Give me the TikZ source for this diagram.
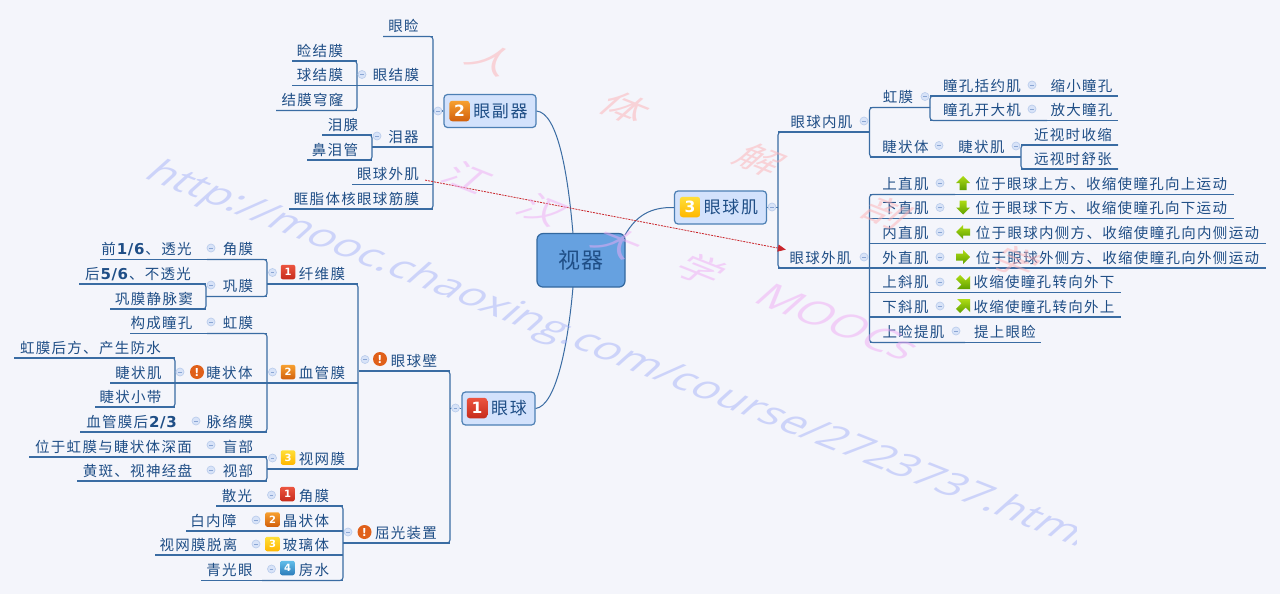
\documentclass[tikz,border=0pt]{standalone}
\usepackage{fontspec}
\usetikzlibrary{calc,arrows.meta}
\setmainfont{Noto Sans CJK SC}[LetterSpace=9]
\newfontfamily\latb{DejaVu Sans Bold}[LetterSpace=4]
\newfontfamily\wmcjk{Noto Sans CJK SC}
\newfontfamily\wmlat{Open Sans}
\definecolor{bgc}{HTML}{F4F5FB}
\definecolor{ink}{HTML}{1F4E86}
\definecolor{lnk}{HTML}{3A6CA3}
\definecolor{branchf}{HTML}{D3E2FC}
\definecolor{branchd}{HTML}{4C7FB4}
\definecolor{rootf}{HTML}{66A1E0}
\definecolor{rootd}{HTML}{33689F}
\definecolor{collf}{HTML}{D8E3F8}
\definecolor{colld}{HTML}{BCCEEC}
\definecolor{collm}{HTML}{8AA6D4}
\definecolor{wmurl}{HTML}{A6B2F9}
\definecolor{wmred}{HTML}{FDB0B4}
\definecolor{wmpur}{HTML}{EFABF5}
\definecolor{relc}{HTML}{C9252B}
\definecolor{warnc}{HTML}{E0601A}
\definecolor{pr1a}{HTML}{EC5540}\definecolor{pr1b}{HTML}{C62B1C}
\definecolor{pr2a}{HTML}{F7A030}\definecolor{pr2b}{HTML}{D2600C}
\definecolor{pr3a}{HTML}{FFDF38}\definecolor{pr3b}{HTML}{FFB600}
\definecolor{pr4a}{HTML}{62BEEA}\definecolor{pr4b}{HTML}{2C7CBA}
\definecolor{ara}{HTML}{AEDC14}\definecolor{arb}{HTML}{5FA000}
\tikzset{
 link/.style={draw=lnk,line width=1.1pt},
 curvelink/.style={draw=lnk,line width=1pt},
 lbl/.style={inner sep=0pt,text=ink,font=\fontsize{14.5}{16}\selectfont,anchor=base},
 branch/.style={draw=branchd,fill=branchf,line width=1.2pt,rounded corners=3.5pt,text=ink,inner sep=0pt,minimum height=33pt,font=\fontsize{17}{19}\selectfont},
 rootnode/.style={draw=rootd,fill=rootf,line width=1.2pt,rounded corners=6pt,text=ink,inner sep=0pt,minimum width=88pt,minimum height=53.5pt,font=\fontsize{22}{24}\selectfont},
 collapse/.style={circle,draw=colld,fill=collf,line width=.7pt,inner sep=0pt,minimum size=8pt},
 iconbox/.style={rounded corners=2pt,inner sep=0pt,minimum size=14.5pt,text=white,font=\latb\fontsize{10}{10}\selectfont},
 bigbox/.style={rounded corners=3pt,inner sep=0pt,minimum size=20.5pt,text=white,font=\latb\fontsize{15.5}{16}\selectfont},
 warnicon/.style={circle,fill=warnc,inner sep=0pt,minimum size=14pt,text=white,font=\latb\fontsize{11}{11}\selectfont},
 wm/.style={inner sep=0pt,opacity=.5,rotate=-21.6,xslant=.5,yscale=.78},
 prio/.style={top color=pr#1a,bottom color=pr#1b},
}
% name L R y t1 t2 text
\newcommand\tp[7]{%
 \coordinate (#1L) at (#2,#4);\coordinate (#1R) at (#3,#4);
 \node[lbl] (#1) at ({(#5+#6)/2},{#4-4.9}) {#7};
 \draw[link] (#1L)--(#1R);}
\newcommand\brL[2]{\draw[link,rounded corners=3pt] (#1L)--(#1R)--(#2R)--(#2L);}
\newcommand\brR[2]{\draw[link,rounded corners=3pt] (#1R)--(#1L)--(#2L)--(#2R);}
\newcommand\cl[3]{\node[collapse] (#1C) at (#2,#3) {\textcolor{collm}{\rule{3.6pt}{.7pt}}};}
\newcommand\ic[4]{\node[iconbox,prio=#2] (#1I) at (#3,#4) {#2};}
\newcommand\warn[3]{\node[warnicon] (#1I) at (#2,#3) {!};}
\newcommand\arr[3]{\begin{scope}[shift={(#1,#2)}]\shade[top color=ara,bottom color=arb] #3 -- cycle;\end{scope}}
\newcommand\bo[1]{\hspace{1pt}{\latb\fontsize{15}{16}\selectfont #1}\hspace{1pt}}
\begin{document}
\begin{tikzpicture}[x=1pt,y=-1pt]
\useasboundingbox (0,0) rectangle (1280,594);
\fill[bgc] (0,0) rectangle (1280,594);
% root and main branches
\node[rootnode] (root) at (581,260.3) {视器};
\node[branch,minimum width=92pt] (fq) at (490,111) {\hspace{21pt}眼副器};
\node[branch,minimum width=73pt] (yq) at (498.5,408.5) {\hspace{21pt}眼球};
\node[branch,minimum width=92pt] (ybj) at (720.5,207.5) {\hspace{21pt}眼球肌};
\node[bigbox,prio=2] (fqI) at (459.5,111) {2};
\node[bigbox,prio=1] (yqI) at (477,408) {1};
\node[bigbox,prio=3] (ybjI) at (690,207) {3};
\coordinate (rootA) at (573,233.5);
\coordinate (rootB) at (573,287);
\coordinate (rootC) at (625,235);
\draw[curvelink] (fq.east) .. controls (558,113) and (568,175) .. (rootA);
\draw[curvelink] (yq.east) .. controls (556,406) and (568,345) .. (rootB);
\draw[curvelink] (ybj.west) .. controls (650,207) and (636,216) .. (rootC);
% ---- upper left
\tp{yj}{383}{433}{36.5}{388}{419}{眼睑}
\tp{yjm}{357}{433}{85.5}{373}{419}{眼结膜}
\tp{jma}{292}{357}{61}{297}{343}{睑结膜}
\tp{jmb}{292}{357}{85.5}{297}{343}{球结膜}
\tp{jmc}{276}{357}{110.5}{282}{343}{结膜穹窿}
\tp{lq}{372}{433}{147}{388}{419}{泪器}
\tp{lx}{322}{372}{135}{328}{358}{泪腺}
\tp{blg}{307}{372}{160}{312}{358}{鼻泪管}
\tp{ywj}{352}{433}{184.5}{357}{419}{眼球外肌}
\tp{kz}{289}{433}{209}{293}{420}{眶脂体核眼球筋膜}
\brL{yj}{kz}\brL{jma}{jmc}\brL{lx}{blg}
\draw[link] (fq.west) -- (fq.west -| yjR);
\cl{fq}{438}{111}\cl{yjm}{362}{74.5}\cl{lq}{377}{136}
% ---- eyeball
\tp{ybb}{359}{450}{371}{391}{437}{眼球壁}
\tp{qg}{343}{450}{543}{375}{437}{屈光装置}
\brL{ybb}{qg}
\draw[link] (yq.west) -- (yq.west -| ybbR);
\cl{yq}{455.5}{408}
\warn{ybb}{380}{359}\cl{ybb}{365}{359.5}
\warn{qg}{364.5}{532}\cl{qg}{348}{532}
% fibrous
\tp{xw}{267}{358}{284}{299}{345}{纤维膜}
\tp{xg}{267}{358}{383}{299}{345}{血管膜}
\tp{sw}{267}{358}{469}{299}{345}{视网膜}
\brL{xw}{sw}
\ic{xw}{1}{288}{272}\cl{xw}{272.5}{272.5}
\ic{xg}{2}{288}{372}\cl{xg}{272.5}{372}
\ic{sw}{3}{288}{457.5}\cl{sw}{272.5}{458}
\tp{jma2}{207}{267}{259.5}{223}{253}{角膜}
\tp{jmt}{100}{207}{259.5}{100}{193}{前\bo{1/6}、透光}
\tp{gm}{206}{267}{296.5}{223}{253}{巩膜}
\tp{gma}{79}{206}{284}{83}{193}{后\bo{5/6}、不透光}
\tp{gmb}{110}{206}{309}{115}{193}{巩膜静脉窦}
\brL{jma2}{gm}\brL{gma}{gmb}
\cl{jma2}{211}{248}\cl{gm}{211}{285}
% vascular
\tp{hma}{207}{267}{333.5}{223}{253}{虹膜}
\tp{hmt}{130}{207}{333.5}{130}{193}{构成瞳孔}
\tp{jz}{175}{267}{383}{206}{253}{睫状体}
\tp{jza}{14}{175}{358}{19}{162}{虹膜后方、产生防水}
\tp{jzb}{110}{175}{383}{115}{162}{睫状肌}
\tp{jzc}{95}{175}{407}{99}{162}{睫状小带}
\tp{ml}{191}{267}{432}{207}{253}{脉络膜}
\tp{mlt}{80}{191}{432}{85}{178}{血管膜后\bo{2/3}}
\brL{hma}{ml}\brL{jza}{jzc}
\cl{hma}{211}{322}\cl{jz}{180}{372}\warn{jz}{197}{372}\cl{ml}{196}{421}
% retina
\tp{mb}{207}{267}{457}{223}{253}{盲部}
\tp{mbt}{29}{207}{457}{34}{193}{位于虹膜与睫状体深面}
\tp{sb}{207}{267}{481}{223}{253}{视部}
\tp{sbt}{77}{207}{481}{82}{193}{黄斑、视神经盘}
\brL{mb}{sb}
\cl{mb}{211}{445}\cl{sb}{211}{470}
% refraction
\tp{qa}{262}{343}{506}{299}{329}{角膜}
\tp{qat}{216}{262}{506}{222}{252}{散光}
\tp{qb}{242}{343}{531}{283}{329}{晶状体}
\tp{qbt}{186}{242}{531}{191}{236}{白内障}
\tp{qc}{242}{343}{555}{283}{329}{玻璃体}
\tp{qct}{155}{242}{555}{160}{237}{视网膜脱离}
\tp{qd}{262}{343}{580.5}{299}{329}{房水}
\tp{qdt}{201}{262}{580.5}{207}{252}{青光眼}
\brL{qa}{qd}
\ic{qa}{1}{287.5}{494}\cl{qa}{271.5}{495}
\ic{qb}{2}{272.5}{519.5}\cl{qb}{256}{520}
\ic{qc}{3}{272.5}{544}\cl{qc}{256}{544}
\ic{qd}{4}{287.5}{568}\cl{qd}{271.5}{569}
% ---- right
\tp{nw}{778}{869.5}{132}{790}{853}{眼球内肌}
\tp{rw}{778}{869.5}{268}{789}{852}{眼球外肌}
\brR{nw}{rw}
\draw[link] (ybj.east) -- (ybj.east -| nwL);
\cl{ybj}{772}{207}\cl{nw}{864}{121}\cl{rw}{864}{257}
\tp{hmr}{869.5}{930}{107.5}{883}{913}{虹膜}
\tp{jzr}{869.5}{945}{157}{882}{929}{睫状体}
\brR{hmr}{jzr}
\tp{jjr}{945}{1021}{157}{958}{1005}{睫状肌}
\cl{hmr}{925}{96.5}\cl{jzr}{939}{145.5}\cl{jjr}{1016}{146}
\tp{ty}{930}{1047}{96}{943}{1021}{瞳孔括约肌}
\tp{tyt}{1047}{1118}{96}{1051}{1112}{缩小瞳孔}
\tp{tk}{930}{1047}{120.5}{943}{1021}{瞳孔开大机}
\tp{tkt}{1047}{1118}{120.5}{1051}{1112}{放大瞳孔}
\brR{ty}{tk}
\cl{ty}{1032}{85}\cl{tk}{1032}{109}
\tp{jsh}{1021}{1118}{145}{1034}{1112}{近视时收缩}
\tp{ysh}{1021}{1118}{169}{1034}{1112}{远视时舒张}
\brR{jsh}{ysh}
% extraocular
\tp{sz}{869.5}{955}{194.5}{882}{929}{上直肌}
\tp{szt}{955}{1234}{194.5}{974}{1228.5}{位于眼球上方、收缩使瞳孔向上运动}
\tp{xz}{869.5}{955}{218.5}{882}{929}{下直肌}
\tp{xzt}{955}{1234}{218.5}{974}{1228.5}{位于眼球下方、收缩使瞳孔向下运动}
\tp{nz}{869.5}{955}{243.5}{882}{929}{内直肌}
\tp{nzt}{955}{1266}{243.5}{974}{1261}{位于眼球内侧方、收缩使瞳孔向内侧运动}
\tp{wz}{869.5}{955}{268}{882}{929}{外直肌}
\tp{wzt}{955}{1266}{268}{974}{1261}{位于眼球外侧方、收缩使瞳孔向外侧运动}
\tp{ss}{869.5}{955}{292.5}{882}{929}{上斜肌}
\tp{sst}{955}{1121}{292.5}{973}{1115}{收缩使瞳孔转向外下}
\tp{xs}{869.5}{955}{317}{882}{929}{下斜肌}
\tp{xst}{955}{1121}{317}{973}{1115}{收缩使瞳孔转向外上}
\tp{st}{869.5}{965}{342.5}{882}{945}{上睑提肌}
\tp{stt}{965}{1041}{342.5}{974}{1036}{提上眼睑}
\brR{sz}{st}
\cl{sz}{940}{183}\cl{xz}{940}{207.5}\cl{nz}{940}{232}\cl{wz}{940}{257}\cl{ss}{940}{282}\cl{xs}{940}{306}\cl{st}{956}{331}
\arr{963}{183}{(0,-7)--(7,0)--(3.5,0)--(3.5,7)--(-3.5,7)--(-3.5,0)--(-7,0)}
\arr{963}{207.5}{(0,7)--(7,0)--(3.5,0)--(3.5,-7)--(-3.5,-7)--(-3.5,0)--(-7,0)}
\arr{963}{232}{(-7,0)--(0,-7)--(0,-3.5)--(7,-3.5)--(7,3.5)--(0,3.5)--(0,7)}
\arr{963}{257}{(7,0)--(0,-7)--(0,-3.5)--(-7,-3.5)--(-7,3.5)--(0,3.5)--(0,7)}
\arr{963}{282}{(7,7)--(-6,7)--(-1.6,2.6)--(-7.1,-2.9)--(-2.9,-7.1)--(2.6,-1.6)--(7,-6)}
\arr{963}{306}{(7,-7)--(-6,-7)--(-1.6,-2.6)--(-7.1,2.9)--(-2.9,7.1)--(2.6,1.6)--(7,6)}
% relationship
\draw[relc,line width=.8pt,dash pattern=on 2pt off 1pt,-{Triangle[length=8pt,width=7pt]}] ($(ywj.east)+(6,6)$) -- ($(rw.west)+(-3.5,-8)$);
% watermarks
\begin{scope}
\clip (0,0) rectangle (1076,594);
\node[wm,anchor=base west,text=wmurl,font=\wmlat\fontsize{44.7}{46}\selectfont] (wmu) at (142,177) {http://mooc.chaoxing.com/course/2723737.html};
\end{scope}
\node[wm,text=wmred,font=\wmcjk\fontsize{42}{44}\selectfont] (wr1) at (492,60) {人};
\node[wm,text=wmred,font=\wmcjk\fontsize{42}{44}\selectfont] (wr2) at (625,108) {体};
\node[wm,text=wmred,font=\wmcjk\fontsize{42}{44}\selectfont] (wr3) at (760,160) {解};
\node[wm,text=wmred,font=\wmcjk\fontsize{42}{44}\selectfont] (wr4) at (887,213) {剖};
\node[wm,text=wmred,font=\wmcjk\fontsize{42}{44}\selectfont] (wr5) at (1017,262) {学};
\node[wm,text=wmpur,font=\wmcjk\fontsize{42}{44}\selectfont] (wp1) at (468,178) {江};
\node[wm,text=wmpur,font=\wmcjk\fontsize{42}{44}\selectfont] (wp2) at (543,210) {汉};
\node[wm,text=wmpur,font=\wmcjk\fontsize{42}{44}\selectfont] (wp3) at (618,243) {大};
\node[wm,text=wmpur,font=\wmcjk\fontsize{42}{44}\selectfont] (wp4) at (702,270) {学};
\node[wm,text=wmpur,font=\wmlat\fontsize{46}{48}\selectfont] (wp5) at (838,322) {MOOCs};
\end{tikzpicture}
\end{document}
